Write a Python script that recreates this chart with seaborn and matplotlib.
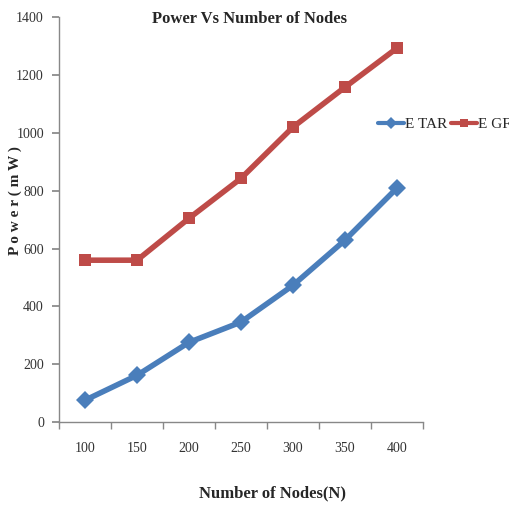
import matplotlib
matplotlib.use("Agg")
import matplotlib.pyplot as plt
import seaborn as sns
import pandas as pd
from matplotlib.ticker import FixedLocator, NullFormatter
from matplotlib.lines import Line2D

nodes = ["100", "150", "200", "250", "300", "350", "400"]
etar = [76, 162, 276, 346, 473, 629, 809]
egf = [560, 560, 705, 843, 1020, 1158, 1293]
y_ticks = [0, 200, 400, 600, 800, 1000, 1200, 1400]

df = pd.DataFrame({
    "Nodes": nodes * 2,
    "Power": etar + egf,
    "Protocol": ["E TAR"] * len(nodes) + ["E GF"] * len(nodes),
})

sns.set_theme(style="white")
plt.rcParams["font.family"] = ["Liberation Serif", "DejaVu Serif"]

fig = plt.figure(figsize=(5.1, 5.08), dpi=100)
ax = fig.add_axes([0.116, 0.169, 0.713, 0.797])

palette = {"E TAR": "#4A7EBB", "E GF": "#BE4B48"}
sns.lineplot(data=df, x="Nodes", y="Power", hue="Protocol", style="Protocol",
             markers={"E TAR": "D", "E GF": "s"}, dashes=False,
             palette=palette, linewidth=4, markersize=9, markeredgewidth=0,
             sort=False, ax=ax, legend=False)

ax.set_xlim(-0.5, len(nodes) - 0.5)
ax.set_ylim(0, 1400)
ax.set_yticks(y_ticks)
ax.set_yticklabels([str(v) for v in y_ticks], fontsize=10, color="#333333")
ax.set_xticks(range(len(nodes)))
ax.set_xticklabels(nodes, fontsize=10, color="#333333")
ax.tick_params(axis="x", which="major", length=0, pad=14)
ax.xaxis.set_minor_locator(FixedLocator([i - 0.5 for i in range(len(nodes) + 1)]))
ax.xaxis.set_minor_formatter(NullFormatter())
ax.tick_params(axis="x", which="minor", bottom=True, length=5, color="#888888", direction="out")
ax.tick_params(axis="y", left=True, length=5, color="#888888", direction="out", pad=6)

for side in ["top", "right"]:
    ax.spines[side].set_visible(False)
for side in ["left", "bottom"]:
    ax.spines[side].set_color("#888888")
    ax.spines[side].set_linewidth(1.0)

ax.set_xlabel("")
ax.set_ylabel("")
fig.text(0.49, 0.963, "Power Vs Number of Nodes", fontsize=12, fontweight="bold",
         ha="center", va="center")
fig.text(0.535, 0.028, "Number of Nodes(N)", fontsize=12, fontweight="bold",
         ha="center", va="center")
fig.text(0.03, 0.606, "P o w e r ( m W )", fontsize=11, fontweight="bold",
         rotation=90, ha="center", va="center")

handles = [
    Line2D([], [], color=palette["E TAR"], marker="D", lw=3, markersize=6, markeredgewidth=0),
    Line2D([], [], color=palette["E GF"], marker="s", lw=3, markersize=6, markeredgewidth=0),
]
fig.legend(handles, ["E TAR", "E GF"], loc="center left", bbox_to_anchor=(0.72, 0.755),
           ncol=2, frameon=False, fontsize=11, handlelength=1.7, handletextpad=0.1,
           columnspacing=0.2, borderpad=0.2)

fig.savefig("out.png", dpi=100, facecolor="white")
